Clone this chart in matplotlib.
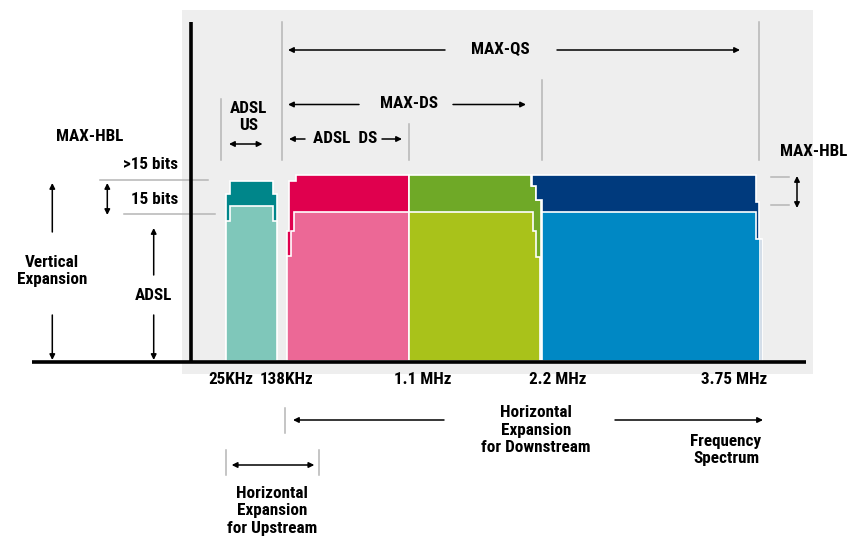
import matplotlib
matplotlib.use("Agg")
import os
import matplotlib.pyplot as plt
from matplotlib.patches import Polygon, Rectangle
from matplotlib import font_manager
from matplotlib.font_manager import FontProperties

# ---------------- data ----------------
freq_labels = ["25KHz", "138KHz", "1.1 MHz", "2.2 MHz", "3.75 MHz"]
freq_pos = [230.5, 286.5, 423, 557.5, 734]

bands = ["ADSL US", "ADSL DS", "MAX-DS ext", "MAX-QS ext"]
# stepped outlines: (y_from, x_left, x_right) rows, top-down; dark = MAX-HBL level, light = 15 bit level
dark_rows = [
    [(181, 230, 273), (194, 226, 277)],
    [(175, 296, 409), (181, 289.3, 409), (231, 286.7, 409)],
    [(175, 409, 531), (186, 409, 536), (200, 409, 541.5)],
    [(175, 531.7, 755.7), (186, 536, 755.7), (200, 541.7, 755.7), (202, 541.7, 759), (239, 541.7, 761.7)],
]
light_rows = [
    [(206, 230, 273), (221, 226, 277)],
    [(212, 294.3, 409), (231, 290.7, 409), (256, 286.7, 409)],
    [(212, 409, 532.7), (231, 409, 535.7), (257, 409, 540.3)],
    [(212, 541.7, 755.7), (239, 541.7, 760.5)],
]
dark_colors = ["#00868a", "#e0004e", "#6fa927", "#003a7d"]
light_colors = ["#7fc7ba", "#ec6896", "#a9c21a", "#0088c4"]
base_y = 361

# ---------------- font ----------------
wanted = ["RobotoCondensed-Bold.ttf", "LiberationSansNarrow-Bold.ttf", "PragatiNarrow-Bold.ttf",
          "IBMPlexSansCondensed-Bold.ttf", "PTSansNarrow-Bold.ttf", "PT_Sans-Narrow-Web-Bold.ttf",
          "FiraSansCondensed-Bold.ttf", "AsapCondensed-Bold.ttf", "BarlowCondensed-SemiBold.ttf"]
files = {os.path.basename(f.fname): f.fname for f in font_manager.fontManager.ttflist}
FP = None
for w in wanted:
    if w in files:
        FP = FontProperties(fname=files[w])
        break
FS = 12.3
if FP is None:
    FP = FontProperties(family=["Liberation Sans", "DejaVu Sans"], weight="bold")
    FS = 10.5

fig = plt.figure(figsize=(8.49, 5.42), dpi=100)
ax = fig.add_axes([0, 0, 1, 1])
ax.set_xlim(0, 849)
ax.set_ylim(542, 0)
ax.axis("off")

# gray panel
ax.add_patch(Rectangle((182, 10), 631, 364, facecolor="#eeeeee", edgecolor="none", zorder=0))


def stepped(rows):
    left, right = [], []
    for i, (y, xl, xr) in enumerate(rows):
        y_end = rows[i + 1][0] if i + 1 < len(rows) else base_y
        left += [(xl, y), (xl, y_end)]
        right += [(xr, y), (xr, y_end)]
    return right + left[::-1]


for rows, c in zip(dark_rows, dark_colors):
    ax.add_patch(Polygon(stepped(rows), closed=True, facecolor=c, edgecolor="white", lw=1.2, zorder=2))
for rows, c in zip(light_rows, light_colors):
    ax.add_patch(Polygon(stepped(rows), closed=True, facecolor=c, edgecolor="white", lw=1.2, zorder=3))

# axes lines
ax.plot([32, 806], [362, 362], color="black", lw=2.6, zorder=5, solid_capstyle="butt")
ax.plot([191, 191], [22, 362], color="black", lw=2.6, zorder=5, solid_capstyle="butt")

GR = "#b5b5b5"
def gline(x0, x1, y0, y1):
    ax.plot([x0, x1], [y0, y1], color=GR, lw=1.1, zorder=1)

def arrow(x0, y0, x1, y1, both=False, ms=8):
    ax.annotate("", xy=(x1, y1), xytext=(x0, y0),
                arrowprops=dict(arrowstyle="<|-|>" if both else "-|>", color="black", lw=1.1,
                                mutation_scale=ms, shrinkA=0, shrinkB=0), zorder=6)

def txt(x, y, s, ha="center", fs=None):
    ax.text(x, y, s, ha=ha, va="center", fontproperties=FP, fontsize=fs or FS, color="black",
            linespacing=1.22, zorder=7)

# top vertical guide lines
gline(220.7, 220.7, 99, 160)
gline(281.7, 281.7, 22, 160)
gline(408.7, 408.7, 124, 160)
gline(541.7, 541.7, 80, 160)
gline(759, 759, 22, 160)

# MAX-QS
txt(500, 49, "MAX-QS")
arrow(445, 50, 288, 50)
arrow(557, 50, 740, 50)
# MAX-DS
txt(409, 104, "MAX-DS")
arrow(359, 104.5, 288, 104.5)
arrow(453, 104.5, 526, 104.5)
# ADSL DS
txt(345, 138.5, "ADSL  DS")
arrow(305, 139, 289, 139)
arrow(382, 139, 402, 139)
# ADSL US
txt(249, 117, "ADSL\nUS")
arrow(229, 144, 262.5, 144, both=True)

# right MAX-HBL
txt(814, 151.5, "MAX-HBL")
gline(771, 789, 176.7, 176.7)
gline(771, 789, 205, 205)
arrow(797, 176, 797, 208, both=True)

# left annotations
txt(90, 136.5, "MAX-HBL")
txt(178, 164.5, ">15 bits", ha="right")
txt(178, 200, "15 bits", ha="right")
gline(100, 208, 180, 180)
gline(124, 215, 214, 214)
arrow(107.3, 183, 107.3, 215, both=True)
arrow(52.3, 232, 52.3, 183)
txt(52.3, 271, "Vertical\nExpansion")
arrow(52.3, 315, 52.3, 360)
arrow(153.7, 275, 153.7, 228)
txt(153.7, 296, "ADSL")
arrow(153.7, 315, 153.7, 360)

# frequency tick labels
for p, lab in zip(freq_pos, freq_labels):
    txt(p, 380, lab)

# bottom annotations
gline(285, 285, 408, 433)
arrow(444, 420, 293, 420)
txt(536, 430, "Horizontal\nExpansion\nfor Downstream")
arrow(615, 420, 763, 420)
txt(726, 450, "Frequency\nSpectrum")

gline(225.7, 225.7, 450, 475)
gline(319.3, 319.3, 450, 475)
arrow(231.7, 465, 314.3, 465, both=True)
txt(272, 511, "Horizontal\nExpansion\nfor Upstream")

fig.savefig("out.png", dpi=100, facecolor="white")
